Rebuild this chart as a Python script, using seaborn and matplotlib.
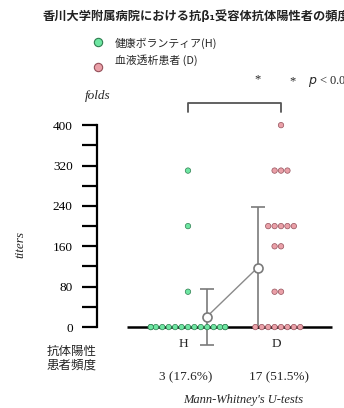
import warnings
import pandas as pd
import matplotlib
matplotlib.use("Agg")
import matplotlib.pyplot as plt
import seaborn as sns
from matplotlib.lines import Line2D

warnings.filterwarnings("ignore")

# data
groups = ["H", "D"]
h_titers = [310, 200, 70, 0, 0, 0, 0, 0, 0, 0, 0, 0, 0, 0, 0, 0, 0, 0]
d_titers = [400, 310, 310, 310, 200, 200, 200, 200, 200, 160, 160, 70, 70,
            0, 0, 0, 0, 0, 0, 0, 0]
mean_titer = [20, 118]
sd_titer = [55, 120]
mean_offset = [0.2, -0.25]
freq_labels = ["3 (17.6%)", "17 (51.5%)"]
legend_labels = ["健康ボランティア(H)", "血液透析患者 (D)"]

fill_colors = {"H": "#6ee6a2", "D": "#eaa0a8"}
edge_colors = {"H": "#2f7d50", "D": "#94505a"}

sns.set_style("white")
plt.rcParams["font.family"] = ["Liberation Serif", "Noto Sans CJK JP", "DejaVu Sans"]
JP = ["Noto Sans CJK JP", "DejaVu Sans"]

df = pd.DataFrame({
    "group": ["H"] * len(h_titers) + ["D"] * len(d_titers),
    "titer": h_titers + d_titers,
})

fig = plt.figure(figsize=(3.44, 4.08), dpi=100)
ax = fig.add_axes([97 / 344, 0.1365, 1 - 97 / 344, 0.631])

sns.swarmplot(data=df, x="group", y="titer", hue="group", order=groups,
              hue_order=groups, palette=fill_colors, size=3.9,
              linewidth=0.5, legend=False, ax=ax, zorder=4)
for coll, g in zip(ax.collections, groups):
    coll.set_edgecolor(edge_colors[g])

ax.set_xlim(-0.978, 1.677)
ax.set_ylim(-50, 460)

# baseline
ax.hlines(0, -0.656, 1.548, color="black", lw=1.8, zorder=3)

# means and SD
mx = [i + o for i, o in enumerate(mean_offset)]
ax.plot(mx, mean_titer, color="#8a8a8a", lw=1, zorder=5)
ax.errorbar(mx, mean_titer, yerr=sd_titer, fmt="none", ecolor="#7a7a7a",
            elinewidth=1.2, capsize=5, capthick=1.2, zorder=2)
ax.plot(mx, mean_titer, "o", ms=6.5, mfc="white", mec="#7a7a7a", mew=1.2, zorder=6)

# significance bracket
ax.plot([0, 0, 1, 1], [426, 443, 443, 426], color="#555555", lw=1.3, clip_on=False)
ax.text(0.75, 491, "*", ha="center", va="center", fontsize=9, clip_on=False)
ax.text(1.12, 487, "*", ha="center", va="center", fontsize=9, clip_on=False)
ax.text(1.29, 487, "$\\it{p}$ < 0.05", ha="left", va="center", fontsize=9, clip_on=False)

# y axis
ax.set_xticks([])
ax.set_xlabel("")
ax.set_ylabel("")
ax.set_yticks([0, 80, 160, 240, 320, 400])
ax.set_yticks([40, 120, 200, 280, 360], minor=True)
ax.tick_params(axis="y", which="both", direction="out", length=10.5, width=1.6,
               left=True, labelsize=9.5, pad=7, colors="black")
for s in ["top", "right", "bottom"]:
    ax.spines[s].set_visible(False)
ax.spines["left"].set_bounds(0, 400)
ax.spines["left"].set_linewidth(1.6)
ax.spines["left"].set_color("black")

# category labels and frequencies
for i, g in enumerate(groups):
    ax.text(i - 0.05, -34, g, ha="center", va="center", fontsize=9.5, clip_on=False)
    ax.text(i - 0.02, -100, freq_labels[i], ha="center", va="center", fontsize=9.5,
            clip_on=False)

fig.text(243 / 344, 1 - 400 / 408, "Mann-Whitney's U-tests", ha="center",
         va="center", fontsize=9, style="italic")
fig.text(98 / 344, 1 - 96 / 408, "folds", ha="center", va="center", fontsize=9.5,
         style="italic")
fig.text(20 / 344, 1 - 245 / 408, "titers", ha="center", va="center", fontsize=9.5,
         style="italic", rotation=90)
fig.text(72 / 344, 1 - 358 / 408, "抗体陽性\n患者頻度", ha="center", va="center",
         fontsize=9, family=JP, linespacing=1.1)

# title
fig.text(43 / 344, 1 - 17 / 408, "香川大学附属病院における抗β₁受容体抗体陽性者の頻度",
         ha="left", va="center", fontsize=8.8, family=JP, color="#222222",
         weight="bold")

# legend
for k, (g, lab) in enumerate(zip(groups, legend_labels)):
    ym = 1 - (42 + 25 * k) / 408
    fig.add_artist(Line2D([98 / 344], [ym], marker="o", ms=6, mfc=fill_colors[g],
                          mec=edge_colors[g], mew=0.8, transform=fig.transFigure))
    fig.text(115 / 344, 1 - (43 + 17 * k) / 408, lab, ha="left", va="center",
             fontsize=7.8, family=JP)

fig.savefig("out.png", dpi=100)
